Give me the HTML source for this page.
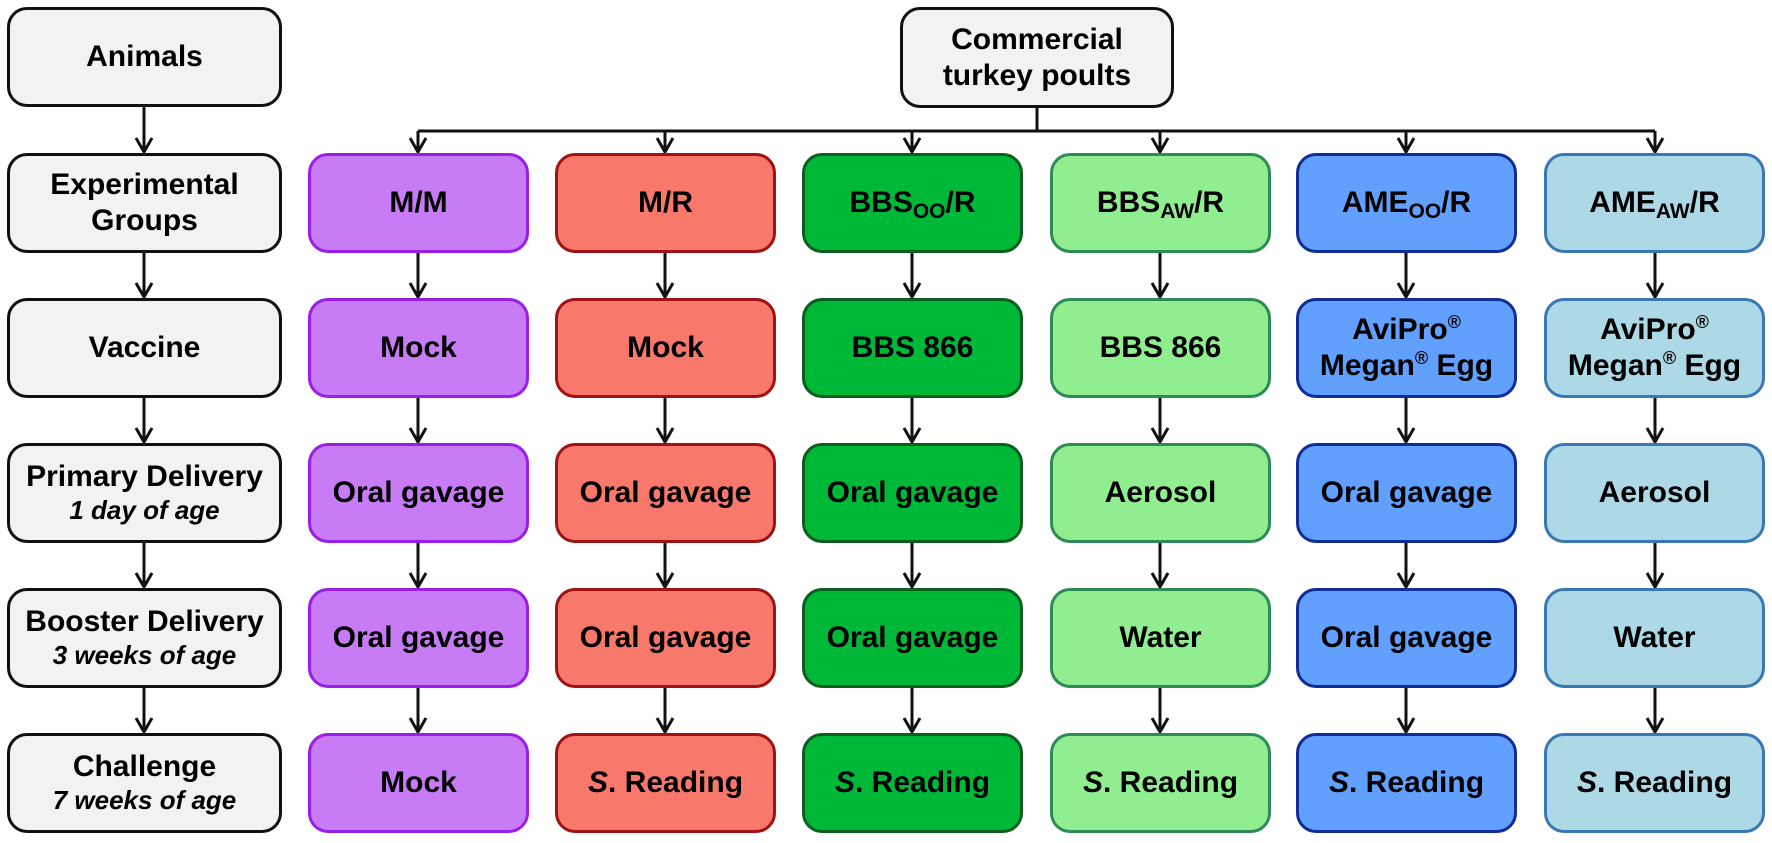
<!DOCTYPE html><html><head><style>
body{margin:0;width:1772px;height:843px;background:#fff;position:relative;overflow:hidden;font-family:"Liberation Sans",Arial,sans-serif}
.b{position:absolute;box-sizing:border-box;border:3px solid #111;border-radius:20px;display:flex;flex-direction:column;align-items:center;justify-content:center;font-weight:bold;font-size:30px;text-align:center;line-height:1.2;color:#000}
.g{background:#f2f2f2;border-color:#111}
.p{background:#c77bf5;border-color:#9a1ee8}
.r{background:#f8786c;border-color:#9e1414}
.gr{background:#00b837;border-color:#0b5e20}
.lg{background:#90ee90;border-color:#2e8b57}
.bl{background:#62a0ff;border-color:#122d96}
.lb{background:#add8e6;border-color:#3a78b5}
sub{font-size:21px;vertical-align:-6px;line-height:0}
sup{font-size:18px;line-height:0}
i.s{font-style:italic;font-size:26px;font-weight:bold}
svg{position:absolute;left:0;top:0}
</style></head><body>
<svg width="1772" height="843">
<g stroke="#111" stroke-width="3" fill="none">
<line x1="1037" y1="108" x2="1037" y2="131"/>
<line x1="418" y1="131" x2="1655" y2="131"/>
</g>
<g stroke="#111" stroke-width="3" fill="none" id="arr"></g>
</svg>
<script>
var cols=[144,418,665,912,1160,1406,1655];
var tops=[7,153,298,443,588,733];var H=100;
var s='';
function arrow(x,y1,y2){s+='<line x1="'+x+'" y1="'+y1+'" x2="'+x+'" y2="'+(y2-1)+'"/><polyline points="'+(x-8)+','+(y2-15)+' '+x+','+(y2-1)+' '+(x+8)+','+(y2-15)+'"/>';}
for(var r=0;r<5;r++)arrow(144,tops[r]+H,tops[r+1]);
for(var c=1;c<7;c++){arrow(cols[c],131,153);for(var r=1;r<5;r++)arrow(cols[c],tops[r]+H,tops[r+1]);}
document.getElementById('arr').innerHTML=s;
</script>
<div class="b g" style="left:7px;top:7px;width:275px;height:100px">Animals</div>
<div class="b g" style="left:900px;top:7px;width:274px;height:101px">Commercial<br>turkey poults</div>
<div class="b g" style="left:7px;top:153px;width:275px;height:100px">Experimental<br>Groups</div>
<div class="b g" style="left:7px;top:298px;width:275px;height:100px">Vaccine</div>
<div class="b g" style="left:7px;top:443px;width:275px;height:100px">Primary Delivery<br><i class="s">1 day of age</i></div>
<div class="b g" style="left:7px;top:588px;width:275px;height:100px">Booster Delivery<br><i class="s">3 weeks of age</i></div>
<div class="b g" style="left:7px;top:733px;width:275px;height:100px">Challenge<br><i class="s">7 weeks of age</i></div>

<div class="b p" style="left:308px;top:153px;width:221px;height:100px">M/M</div>
<div class="b p" style="left:308px;top:298px;width:221px;height:100px">Mock</div>
<div class="b p" style="left:308px;top:443px;width:221px;height:100px">Oral gavage</div>
<div class="b p" style="left:308px;top:588px;width:221px;height:100px">Oral gavage</div>
<div class="b p" style="left:308px;top:733px;width:221px;height:100px">Mock</div>

<div class="b r" style="left:555px;top:153px;width:221px;height:100px">M/R</div>
<div class="b r" style="left:555px;top:298px;width:221px;height:100px">Mock</div>
<div class="b r" style="left:555px;top:443px;width:221px;height:100px">Oral gavage</div>
<div class="b r" style="left:555px;top:588px;width:221px;height:100px">Oral gavage</div>
<div class="b r" style="left:555px;top:733px;width:221px;height:100px"><span><i>S</i>. Reading</span></div>

<div class="b gr" style="left:802px;top:153px;width:221px;height:100px"><span>BBS<sub>OO</sub>/R</span></div>
<div class="b gr" style="left:802px;top:298px;width:221px;height:100px">BBS 866</div>
<div class="b gr" style="left:802px;top:443px;width:221px;height:100px">Oral gavage</div>
<div class="b gr" style="left:802px;top:588px;width:221px;height:100px">Oral gavage</div>
<div class="b gr" style="left:802px;top:733px;width:221px;height:100px"><span><i>S</i>. Reading</span></div>

<div class="b lg" style="left:1050px;top:153px;width:221px;height:100px"><span>BBS<sub>AW</sub>/R</span></div>
<div class="b lg" style="left:1050px;top:298px;width:221px;height:100px">BBS 866</div>
<div class="b lg" style="left:1050px;top:443px;width:221px;height:100px">Aerosol</div>
<div class="b lg" style="left:1050px;top:588px;width:221px;height:100px">Water</div>
<div class="b lg" style="left:1050px;top:733px;width:221px;height:100px"><span><i>S</i>. Reading</span></div>

<div class="b bl" style="left:1296px;top:153px;width:221px;height:100px"><span>AME<sub>OO</sub>/R</span></div>
<div class="b bl" style="left:1296px;top:298px;width:221px;height:100px"><span>AviPro<sup>®</sup><br>Megan<sup>®</sup> Egg</span></div>
<div class="b bl" style="left:1296px;top:443px;width:221px;height:100px">Oral gavage</div>
<div class="b bl" style="left:1296px;top:588px;width:221px;height:100px">Oral gavage</div>
<div class="b bl" style="left:1296px;top:733px;width:221px;height:100px"><span><i>S</i>. Reading</span></div>

<div class="b lb" style="left:1544px;top:153px;width:221px;height:100px"><span>AME<sub>AW</sub>/R</span></div>
<div class="b lb" style="left:1544px;top:298px;width:221px;height:100px"><span>AviPro<sup>®</sup><br>Megan<sup>®</sup> Egg</span></div>
<div class="b lb" style="left:1544px;top:443px;width:221px;height:100px">Aerosol</div>
<div class="b lb" style="left:1544px;top:588px;width:221px;height:100px">Water</div>
<div class="b lb" style="left:1544px;top:733px;width:221px;height:100px"><span><i>S</i>. Reading</span></div>
</body></html>
